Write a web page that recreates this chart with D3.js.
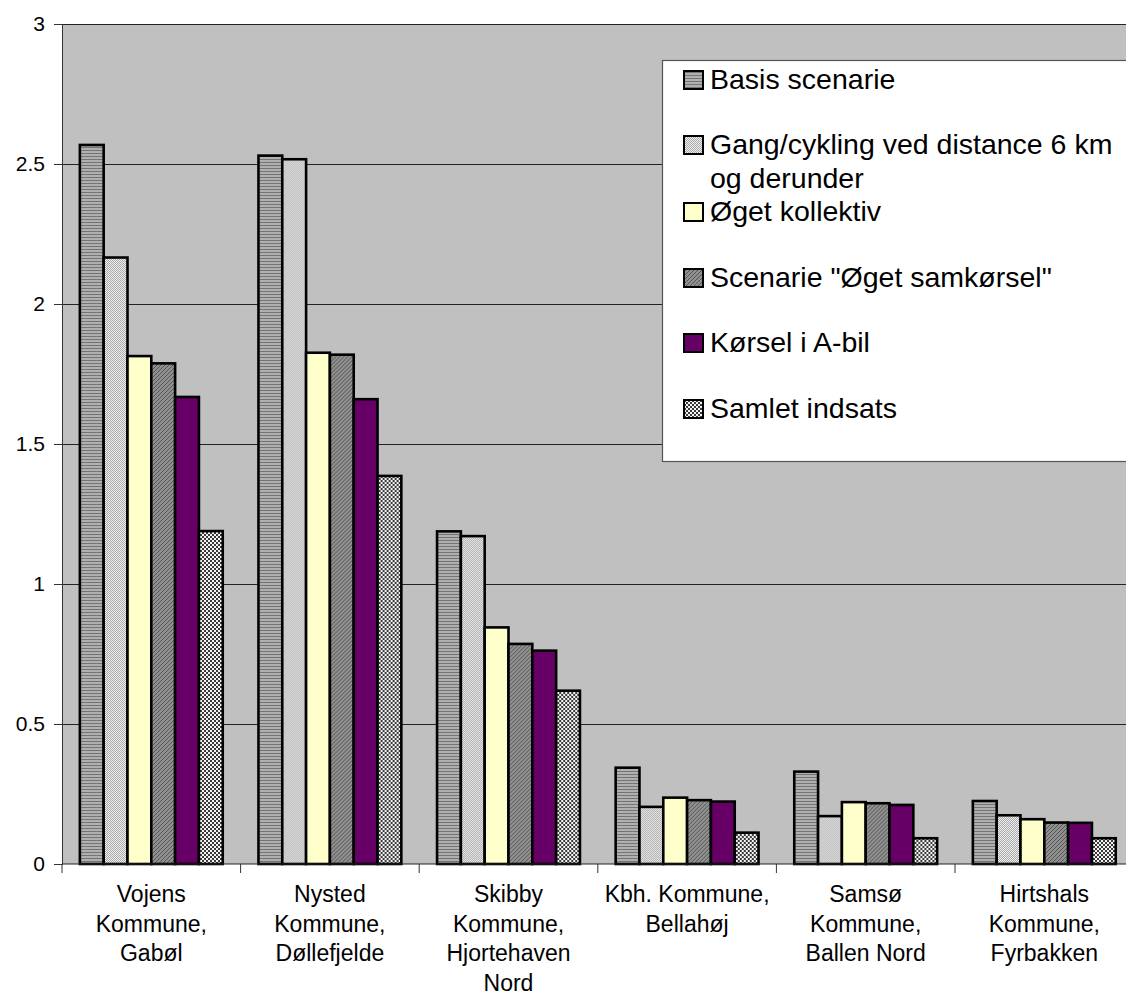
<!DOCTYPE html>
<html><head><meta charset="utf-8">
<script src="https://cdn.jsdelivr.net/npm/d3@7"></script>
<style>body{margin:0;background:#fff;} text{font-family:Arial,"Liberation Sans",sans-serif;fill:#000;}</style>
</head><body>
<svg id="c" width="1126" height="994"></svg>
<script>
const categories = [
  ["Vojens","Kommune,","Gabøl"],
  ["Nysted","Kommune,","Døllefjelde"],
  ["Skibby","Kommune,","Hjortehaven","Nord"],
  ["Kbh. Kommune,","Bellahøj"],
  ["Samsø","Kommune,","Ballen Nord"],
  ["Hirtshals","Kommune,","Fyrbakken"]
];
const seriesNames = ["Basis scenarie","Gang/cykling ved distance 6 km og derunder","Øget kollektiv","Scenarie \"Øget samkørsel\"","Kørsel i A-bil","Samlet indsats"];
const legendLines = [["Basis scenarie"],["Gang/cykling ved distance 6 km","og derunder"],["Øget kollektiv"],["Scenarie \"Øget samkørsel\""],["Kørsel i A-bil"],["Samlet indsats"]];
const basis      = [2.568, 2.530, 1.188, 0.344, 0.330, 0.225];
const gang       = [2.166, 2.517, 1.171, 0.204, 0.171, 0.174];
const kollektiv  = [1.814, 1.826, 0.845, 0.237, 0.221, 0.160];
const samkorsel  = [1.788, 1.819, 0.786, 0.228, 0.217, 0.148];
const abil       = [1.668, 1.660, 0.762, 0.223, 0.211, 0.147];
const samlet     = [1.189, 1.386, 0.619, 0.112, 0.092, 0.092];
const seriesValues = [basis, gang, kollektiv, samkorsel, abil, samlet];
const yTicks = [0, 0.5, 1, 1.5, 2, 2.5, 3];

(function(){
const svg = d3.select("#c");
const defs = svg.append("defs");
function pat(id, w, h, bg, rects){
  const p = defs.append("pattern").attr("id", id).attr("patternUnits","userSpaceOnUse").attr("width", w).attr("height", h);
  p.append("rect").attr("width", w).attr("height", h).attr("fill", bg);
  rects.forEach(r => p.append("rect").attr("x", r[0]).attr("y", r[1]).attr("width", r[2]).attr("height", r[3]).attr("fill", r[4]).attr("shape-rendering","crispEdges"));
  return "url(#" + id + ")";
}
const fills = [
  pat("pBasis", 4, 3, "#b0b0b0", [[0,0,4,1,"#747474"]]),
  pat("pGang", 2, 2, "#f0f0f0", [[0,0,1,1,"#a8a8a8"],[1,1,1,1,"#a8a8a8"]]),
  "#FFFFCC",
  pat("pSam", 4, 4, "#909090", [[0,3,1,1,"#555"],[1,2,1,1,"#555"],[2,1,1,1,"#555"],[3,0,1,1,"#555"]]),
  "#660066",
  pat("pSamlet", 4, 4, "#f4f4f4", [[0,0,2,2,"#3a3a3a"],[2,2,2,2,"#3a3a3a"]])
];

const mLeft = 62, mTop = 24, mBottom = 864, band = 178.6;
const x0 = d3.scaleBand().domain(d3.range(categories.length)).range([mLeft, mLeft + band*categories.length]).paddingInner(0).paddingOuter(0);
const x1 = d3.scaleBand().domain(d3.range(seriesNames.length)).range([0, x0.bandwidth()]).paddingInner(0).paddingOuter(0.75);
const y = d3.scaleLinear().domain([0, 3]).range([mBottom, mTop]);

svg.append("rect").attr("x", mLeft).attr("y", mTop).attr("width", band*categories.length).attr("height", mBottom-mTop).attr("fill", "#C0C0C0");
svg.append("g").selectAll("line").data(yTicks.filter(d => d > 0)).join("line")
  .attr("x1", mLeft).attr("x2", mLeft + band*categories.length)
  .attr("y1", d => y(d)).attr("y2", d => y(d)).attr("stroke", "#222").attr("stroke-width", 1).attr("shape-rendering","crispEdges");

const groups = svg.append("g").selectAll("g").data(categories.map((c,i)=>i)).join("g").attr("transform", i => `translate(${x0(i)},0)`);
groups.selectAll("rect").data(i => seriesValues.map((vals, s) => ({s, v: vals[i]}))).join("rect")
  .attr("x", d => x1(d.s)).attr("width", x1.bandwidth())
  .attr("y", d => y(d.v)).attr("height", d => y(0) - y(d.v))
  .attr("fill", d => fills[d.s]).attr("stroke", "#000").attr("stroke-width", 2.6);

const yAxis = svg.append("g").attr("transform", `translate(${mLeft},0)`)
  .call(d3.axisLeft(y).tickValues(yTicks).tickFormat(d3.format("")).tickSize(8).tickPadding(9));
yAxis.select(".domain").attr("stroke", "#333");
yAxis.selectAll(".tick line").attr("stroke", "#333");
yAxis.selectAll("text").style("font-size", "21px").style("font-family", "Arial, 'Liberation Sans', sans-serif");

svg.append("line").attr("x1", mLeft).attr("x2", mLeft + band*categories.length).attr("y1", mBottom).attr("y2", mBottom).attr("stroke", "#222").attr("stroke-width", 1.2);
svg.append("g").selectAll("line").data(d3.range(categories.length + 1)).join("line")
  .attr("x1", i => mLeft + band*i).attr("x2", i => mLeft + band*i)
  .attr("y1", mBottom).attr("y2", mBottom + 9).attr("stroke", "#333");

const xl = svg.append("g").selectAll("text").data(categories.map((c,i)=>({c,i}))).join("text")
  .attr("text-anchor", "middle").style("font-size", "23px")
  .attr("x", d => x0(d.i) + x0.bandwidth()/2).attr("y", 902);
xl.selectAll("tspan").data(d => d.c.map((t,k)=>({t,k,x:x0(d.i)+x0.bandwidth()/2}))).join("tspan")
  .attr("x", d => d.x).attr("y", d => 902 + d.k*29.5).text(d => d.t);

const lg = svg.append("g");
lg.append("rect").attr("x", 662.5).attr("y", 60.5).attr("width", 480).attr("height", 401).attr("fill", "#fff").attr("stroke", "#555").attr("stroke-width", 1.2);
const legBase = [89, 154, 221, 287, 352, 418];
legendLines.forEach((lines, s) => {
  lg.append("rect").attr("x", 684).attr("y", legBase[s] - 18).attr("width", 19).attr("height", 18)
    .attr("fill", fills[s]).attr("stroke", "#000").attr("stroke-width", 2);
  const t = lg.append("text").attr("x", 710).attr("y", legBase[s]).style("font-size", "28.5px");
  lines.forEach((ln, k) => t.append("tspan").attr("x", 710).attr("y", legBase[s] + k*34).text(ln));
});
})();
</script>
</body></html>
